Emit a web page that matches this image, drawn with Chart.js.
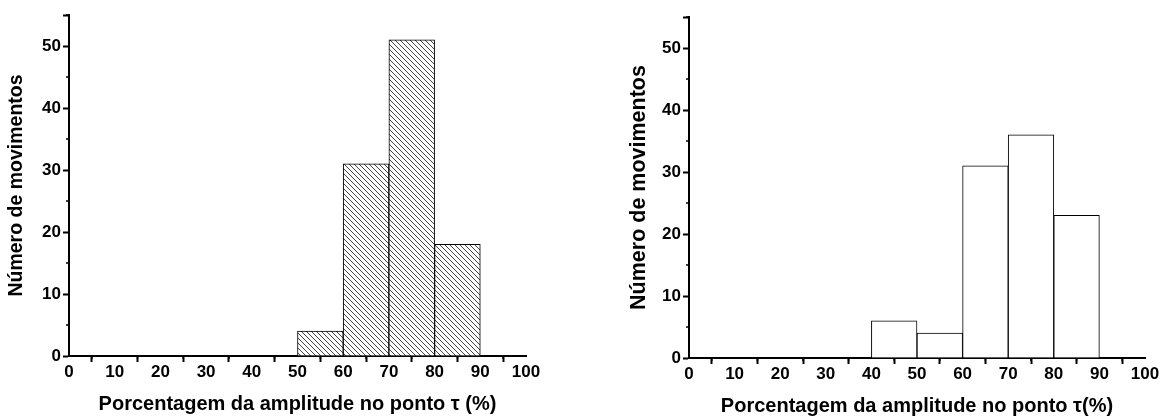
<!DOCTYPE html>
<html>
<head>
<meta charset="utf-8">
<script src="https://cdn.jsdelivr.net/npm/chart.js@4.4.0/dist/chart.umd.min.js"></script>
<style>
    html, body { margin: 0; padding: 0; background: #fff; }
    #wrap { position: relative; width: 1161px; height: 419px; }
    .box { position: absolute; top: 0; height: 419px; }
    #boxA { left: 0; width: 580px; }
    #boxB { left: 580px; width: 581px; }
</style>
</head>
<body>
<div id="wrap">
    <div class="box" id="boxA"><canvas id="chartA"></canvas></div>
    <div class="box" id="boxB"><canvas id="chartB"></canvas></div>
</div>
<script>
// bin centres (%) and counts for each histogram
const binsA = [55, 65, 75, 85];
const countsA = [4, 31, 51, 18];
const binsB = [45, 55, 65, 75, 85];
const countsB = [6, 4, 31, 36, 23];

const xTitleA = 'Porcentagem da amplitude no ponto \u03c4 (%)';
const xTitleB = 'Porcentagem da amplitude no ponto \u03c4(%)';
const yTitle = 'N\u00famero de movimentos';

const fontFamily = '"Liberation Sans", Arial, sans-serif';

// diagonal hatch used to fill the first histogram
function makeHatch() {
    const size = 5;
    const c = document.createElement('canvas');
    c.width = size;
    c.height = size;
    const g = c.getContext('2d');
    g.fillStyle = '#fff';
    g.fillRect(0, 0, size, size);
    g.fillStyle = '#444';
    for (let i = 0; i < size; i++) {
        g.fillRect(i, i, 1, 1);
    }
    return g.createPattern(c, 'repeat');
}

// short ticks at the half steps, drawn outside the axes
const minorTicks = {
    id: 'minorTicks',
    afterDraw(chart) {
        const ctx = chart.ctx;
        const xs = chart.scales.x;
        const ys = chart.scales.y;
        ctx.save();
        ctx.strokeStyle = '#000';
        ctx.lineWidth = 1.5;
        ctx.beginPath();
        for (let v = 5; v < 100; v += 10) {
            const px = xs.getPixelForValue(v);
            ctx.moveTo(px, ys.bottom);
            ctx.lineTo(px, ys.bottom + 3);
        }
        for (let v = 5; v <= 55; v += 10) {
            const py = ys.getPixelForValue(v);
            ctx.moveTo(xs.left, py);
            ctx.lineTo(xs.left - 3, py);
        }
        ctx.stroke();
        ctx.restore();
    }
};

function makeChart(id, bins, counts, fill, xTitle, cfg) {
    const points = bins.map((b, i) => ({x: b, y: counts[i]}));
    return new Chart(document.getElementById(id), {
        type: 'bar',
        data: {
            datasets: [{
                data: points,
                backgroundColor: fill,
                borderColor: '#000',
                borderWidth: 1,
                barPercentage: 1,
                categoryPercentage: 1,
                borderSkipped: 'bottom'
            }]
        },
        options: {
            responsive: true,
            maintainAspectRatio: false,
            animation: false,
            layout: { padding: cfg.pad },
            plugins: {
                legend: { display: false },
                tooltip: { enabled: false }
            },
            scales: {
                x: {
                    type: 'linear',
                    min: 0,
                    max: 100,
                    offset: false,
                    border: { display: true, color: '#000', width: 2 },
                    grid: { drawOnChartArea: false, drawTicks: true, tickLength: 6, tickColor: '#000', tickWidth: 2 },
                    ticks: {
                        stepSize: 10,
                        color: '#000',
                        padding: 0,
                        maxRotation: 0,
                        font: { family: fontFamily, size: 17, weight: 'bold' }
                    },
                    title: {
                        display: true,
                        text: xTitle,
                        color: '#000',
                        padding: { top: 0, bottom: cfg.xTitlePad },
                        font: { family: fontFamily, size: 20, weight: 'bold' }
                    },
                    afterFit(scale) { scale.height = cfg.xHeight; }
                },
                y: {
                    min: 0,
                    max: 55,
                    border: { display: true, color: '#000', width: 2 },
                    grid: { drawOnChartArea: false, drawTicks: true, tickLength: 6, tickColor: '#000', tickWidth: 2 },
                    ticks: {
                        stepSize: 10,
                        color: '#000',
                        padding: 2,
                        font: { family: fontFamily, size: 17, weight: 'bold' },
                        callback: (v) => (v % 10 === 0 && v <= 50 ? v : '')
                    },
                    title: {
                        display: true,
                        text: yTitle,
                        color: '#000',
                        padding: { top: 0, bottom: 0 },
                        font: { family: fontFamily, size: cfg.yTitleSize, weight: 'bold' }
                    },
                    afterFit(scale) { scale.width = cfg.yWidth; }
                }
            }
        },
        plugins: [minorTicks]
    });
}

makeChart('chartA', binsA, countsA, makeHatch(), xTitleA, {
    pad: { top: 15, right: 54, left: 5, bottom: 0 },
    yWidth: 64, xHeight: 63, xTitlePad: 3, yTitleSize: 19.5
});
makeChart('chartB', binsB, countsB, '#fff', xTitleB, {
    pad: { top: 17, right: 16, left: 46, bottom: 0 },
    yWidth: 63, xHeight: 61, xTitlePad: 1, yTitleSize: 21.5
});
</script>
</body>
</html>
